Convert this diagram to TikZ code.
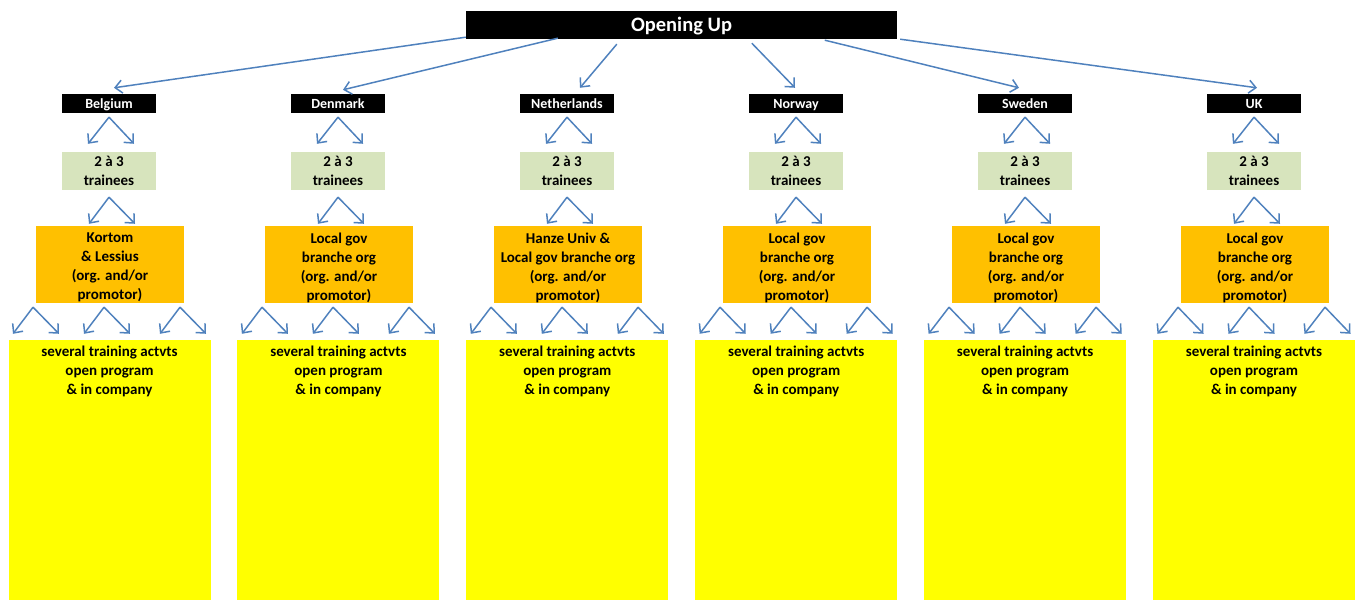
\documentclass[tikz,border=0pt]{standalone}
\usepackage{fontspec}
\setmainfont{Carlito}
\usetikzlibrary{arrows.meta}
\definecolor{arrowblue}{HTML}{4F81BD}
\definecolor{traineegreen}{HTML}{D7E4BD}
\definecolor{orgorange}{HTML}{FFC000}
\definecolor{actyellow}{HTML}{FFFF00}
\begin{document}
\begin{tikzpicture}[x=1pt,y=-1pt,
  hdrbox/.style={fill=black,text=white,inner sep=0pt,minimum width=431pt,minimum height=28pt,
    text height=15pt,text depth=2pt,font=\bfseries\fontsize{20.5}{24}\selectfont},
  ctrybox/.style={fill=black,text=white,inner sep=0pt,minimum width=94pt,minimum height=19pt,
    text height=12pt,text depth=1pt,font=\bfseries\fontsize{14}{17}\selectfont},
  trnbox/.style={fill=traineegreen,inner sep=0pt,minimum width=94pt,minimum height=38pt,align=center,
    font=\bfseries\fontsize{15}{19}\selectfont},
  orgbox/.style={fill=orgorange,inner sep=0pt,minimum width=148pt,minimum height=77pt},
  actbox/.style={fill=actyellow,inner sep=0pt,minimum width=202pt,minimum height=260pt},
  boxtext/.style={inner sep=0pt,align=center,font=\bfseries\fontsize{15}{19}\selectfont},
  arr/.style={draw=arrowblue,line width=1.5pt,-{Straight Barb[length=7pt,width=13pt]}}
]
\useasboundingbox (0,0) rectangle (1358,601);

% title bar
\node[hdrbox] (top) at (681.5,25) {Opening Up};

% one column per country
\foreach \i/\name/\org in {
  0/Belgium/{Kortom\\\& Lessius\\(org. and/or\\promotor)},
  1/Denmark/{Local gov\\branche org\\(org. and/or\\promotor)},
  2/Netherlands/{Hanze Univ \&\\Local gov branche org\\(org. and/or\\promotor)},
  3/Norway/{Local gov\\branche org\\(org. and/or\\promotor)},
  4/Sweden/{Local gov\\branche org\\(org. and/or\\promotor)},
  5/UK/{Local gov\\branche org\\(org. and/or\\promotor)}}{
  \pgfmathsetmacro{\cx}{109+229*\i}
  \pgfmathsetmacro{\ox}{110+229*\i}
  \pgfmathsetmacro{\ax}{109.5+228.9*\i}
  \node[ctrybox] (c\i) at (\cx,103.5) {\name};
  \node[trnbox] (t\i) at (\cx,171) {2 à 3\\trainees};
  \node[orgbox] (o\i) at (\ox,264.5) {};
  \node[boxtext] (ot\i) at (\ox,267.5) {\org};
  \node[actbox] (a\i) at (\ax,470) {};
  \node[boxtext] (at\i) at (\ax,371) {several training actvts\\open program\\\& in company};

  % country -> trainees
  \coordinate (p\i) at ([yshift=-4pt]c\i.south);
  \draw[arr] (p\i) -- ([xshift=-21pt,yshift=8pt]t\i.north);
  \draw[arr] (p\i) -- ([xshift=25pt,yshift=8pt]t\i.north);

  % trainees -> organisation
  \coordinate (q\i) at ([yshift=-7pt]t\i.south);
  \draw[arr] (q\i) -- ([xshift=-21pt,yshift=2pt]o\i.north);
  \draw[arr] (q\i) -- ([xshift=25pt,yshift=2pt]o\i.north);

  % organisation -> activities (three forks)
  \coordinate (r\i a) at ([xshift=-77pt,yshift=-4pt]o\i.south);
  \coordinate (r\i b) at ([xshift=-6pt,yshift=-4pt]o\i.south);
  \coordinate (r\i c) at ([xshift=70pt,yshift=-4pt]o\i.south);
  \draw[arr] (r\i a) -- ([xshift=-96.5pt,yshift=6pt]a\i.north);
  \draw[arr] (r\i a) -- ([xshift=-50.5pt,yshift=6pt]a\i.north);
  \draw[arr] (r\i b) -- ([xshift=-25.5pt,yshift=6pt]a\i.north);
  \draw[arr] (r\i b) -- ([xshift=20.5pt,yshift=6pt]a\i.north);
  \draw[arr] (r\i c) -- ([xshift=50.5pt,yshift=6pt]a\i.north);
  \draw[arr] (r\i c) -- ([xshift=96.5pt,yshift=6pt]a\i.north);
}

% title -> countries
\coordinate (s0) at ([yshift=2pt]top.south west);
\coordinate (s1) at ([xshift=92pt,yshift=1pt]top.south west);
\coordinate (s2) at ([xshift=151pt,yshift=-5pt]top.south west);
\coordinate (s3) at ([xshift=286pt,yshift=-4pt]top.south west);
\coordinate (s4) at ([xshift=359pt,yshift=-1pt]top.south west);
\coordinate (s5) at ([xshift=3pt]top.south east);
\draw[arr] (s0) -- ([xshift=5pt,yshift=6pt]c0.north);
\draw[arr] (s1) -- ([xshift=5pt,yshift=4pt]c1.north);
\draw[arr] (s2) -- ([xshift=13pt,yshift=6pt]c2.north);
\draw[arr] (s3) -- ([xshift=-1pt,yshift=6pt]c3.north);
\draw[arr] (s4) -- ([xshift=-6pt,yshift=6pt]c4.north);
\draw[arr] (s5) -- ([xshift=3pt,yshift=6pt]c5.north);
\end{tikzpicture}
\end{document}
